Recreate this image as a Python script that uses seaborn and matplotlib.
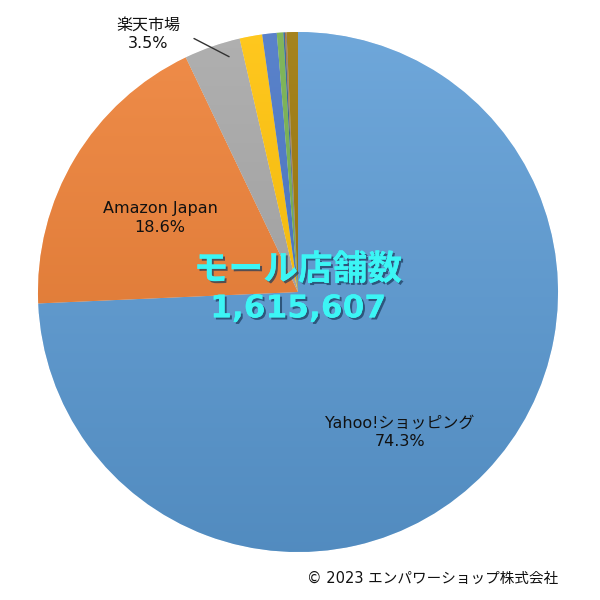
import numpy as np
import matplotlib
matplotlib.use("Agg")
import matplotlib.pyplot as plt
import matplotlib.patheffects as pe
from matplotlib.colors import LinearSegmentedColormap, to_rgb
import seaborn as sns

sns.set_theme(style="white")
plt.rcParams['font.family'] = ['DejaVu Sans', 'Noto Sans CJK JP']

# モール別店舗数シェア (%)
mallNames = ["Yahoo!ショッピング", "Amazon Japan", "楽天市場", "その他1", "その他2",
             "その他3", "その他4", "その他5", "その他6", "その他7"]
shareValues = [74.3, 18.6, 3.5, 1.4, 0.9, 0.4, 0.1, 0.05, 0.05, 0.7]
sliceColors = ["#5B9BD5", "#ED7D31", "#A5A5A5", "#FFC000", "#4472C4",
               "#70AD47", "#255E91", "#9E480E", "#636363", "#997300"]
totalShops = "1,615,607"

fig = plt.figure(figsize=(6, 6), dpi=100)
ax = fig.add_axes([38 / 600, 48 / 600, 520 / 600, 520 / 600])

wedges, _ = ax.pie(shareValues, colors=sliceColors, startangle=90, counterclock=False,
                   radius=1, wedgeprops=dict(edgecolor="white", linewidth=0.4))

# うっすら縦グラデーション
for w, c in zip(wedges, sliceColors):
    base = np.array(to_rgb(c))
    light = base + (1 - base) * 0.12
    dark = base * 0.9
    cmap = LinearSegmentedColormap.from_list("g", [dark, light])
    grad = np.linspace(0, 1, 256).reshape(-1, 1)
    img = ax.imshow(grad, cmap=cmap, extent=(-1, 1, -1, 1), origin="lower",
                    aspect="auto", zorder=w.get_zorder() + 0.1)
    img.set_clip_path(w)

ax.set_xlim(-1, 1)
ax.set_ylim(-1, 1)
ax.set_aspect("equal")
ax.axis("off")

labelFont = 11.5
ax.text(0.392, -0.54, f"{mallNames[0]}\n{shareValues[0]}%", ha="center", va="center",
        fontsize=labelFont, color="#111111", linespacing=1.35, zorder=10)
ax.text(-0.531, 0.285, f"{mallNames[1]}\n{shareValues[1]}%", ha="center", va="center",
        fontsize=labelFont, color="#111111", linespacing=1.35, zorder=10)
ax.text(-0.577, 0.99, f"{mallNames[2]}\n{shareValues[2]}%", ha="center", va="center",
        fontsize=labelFont, color="#111111", linespacing=1.3, zorder=10, clip_on=False)
ax.plot([-0.40, -0.265], [0.975, 0.905], color="#333333", linewidth=1, zorder=10, clip_on=False)

shadow = [pe.withSimplePatchShadow(offset=(1.5, -1.5), shadow_rgbFace="#1a3a5a", alpha=0.7), pe.Normal()]
ax.text(0.0, 0.085, "モール店舗数", ha="center", va="center", fontsize=25,
        fontweight="bold", color="#3CF5F5", zorder=11, path_effects=shadow)
ax.text(0.0, -0.065, totalShops, ha="center", va="center", fontsize=22.5,
        fontweight="bold", color="#3CF5F5", zorder=11, path_effects=shadow)

fig.text(558 / 600, 1 - 578 / 600, "© 2023 エンパワーショップ株式会社", ha="right", va="center",
         fontsize=10.5, color="#111111")

fig.savefig("out.png", dpi=100, facecolor="white")
